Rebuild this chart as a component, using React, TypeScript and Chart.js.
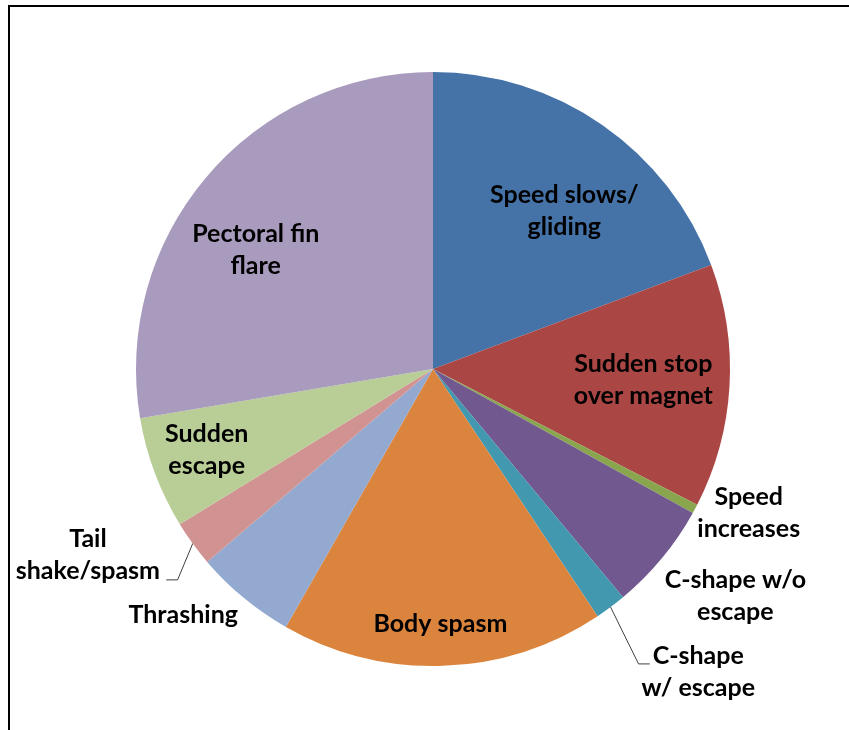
import React, { useEffect, useRef } from "react";
import { Chart, registerables } from "chart.js";

Chart.register(...registerables);

// Categories in clockwise order starting at 12 o'clock
const categories = [
  "Speed slows/gliding",
  "Sudden stop over magnet",
  "Speed increases",
  "C-shape w/o escape",
  "C-shape w/ escape",
  "Body spasm",
  "Thrashing",
  "Tail shake/spasm",
  "Sudden escape",
  "Pectoral fin flare",
];

const shares = [19.3, 13.25, 0.5, 5.9, 1.7, 17.6, 5.5, 2.5, 6.1, 27.65];

const sliceColors = [
  "#4572A7",
  "#AA4643",
  "#89A54E",
  "#71588F",
  "#4198AF",
  "#DB843D",
  "#93A9CF",
  "#D19392",
  "#B9CD96",
  "#A99BBD",
];

// Label text, split in lines
const labelLines = [
  ["Speed slows/", "gliding"],
  ["Sudden stop", "over magnet"],
  ["Speed", "increases"],
  ["C-shape w/o", "escape"],
  ["C-shape", "w/ escape"],
  ["Body spasm"],
  ["Thrashing"],
  ["Tail", "shake/spasm"],
  ["Sudden", "escape"],
  ["Pectoral fin", "flare"],
];

// Label placement, in units of the pie radius relative to its centre:
// x centre of each line, and baseline of the first line
const labelX = [
  [0.442, 0.442],
  [0.708, 0.708],
  [1.063, 1.063],
  [1.018, 1.018],
  [0.893, 0.893],
  [0.025],
  [-0.841],
  [-1.162, -1.162],
  [-0.762, -0.762],
  [-0.597, -0.597],
];
const labelY = [-0.559, 0.01, 0.458, 0.737, 0.993, 0.886, 0.855, 0.599, 0.246, -0.428];

// Leader lines (slice index -> elbow and end, radius units)
const leaderSlices = [4, 7];
const leaderElbow = [
  [0.692, 0.993],
  [-0.86, 0.71],
];
const leaderEnd = [
  [0.73, 0.993],
  [-0.898, 0.71],
];

const FONT = "bold 25px Lato, 'Open Sans', sans-serif";
const LINE_HEIGHT = 32;

const labelPlugin = {
  id: "sliceLabels",
  afterDraw(chart: any) {
    const ctx = chart.ctx as CanvasRenderingContext2D;
    const meta = chart.getDatasetMeta(0);
    const first = meta.data[0] as any;
    const cx = first.x;
    const cy = first.y;
    const r = first.outerRadius;

    ctx.save();
    // frame
    ctx.strokeStyle = "#000";
    ctx.lineWidth = 2;
    ctx.beginPath();
    ctx.moveTo(9, chart.height);
    ctx.lineTo(9, 6);
    ctx.lineTo(chart.width, 6);
    ctx.stroke();

    // leader lines
    ctx.strokeStyle = "#404040";
    ctx.lineWidth = 1;
    leaderSlices.forEach((si, k) => {
      const arc = meta.data[si] as any;
      const mid = (arc.startAngle + arc.endAngle) / 2;
      const sx = cx + Math.cos(mid) * r;
      const sy = cy + Math.sin(mid) * r;
      ctx.beginPath();
      ctx.moveTo(sx, sy);
      ctx.lineTo(cx + leaderElbow[k][0] * r, cy + leaderElbow[k][1] * r);
      ctx.lineTo(cx + leaderEnd[k][0] * r, cy + leaderEnd[k][1] * r);
      ctx.stroke();
    });

    // text
    ctx.font = FONT;
    ctx.fillStyle = "#000";
    ctx.textAlign = "center";
    ctx.textBaseline = "alphabetic";
    labelLines.forEach((lines, i) => {
      lines.forEach((t, j) => {
        const x = cx + labelX[i][j] * r;
        const y = cy + labelY[i] * r + j * LINE_HEIGHT;
        ctx.fillText(t, x, y);
      });
    });
    ctx.restore();
  },
};

export default function App() {
  const ref = useRef<HTMLCanvasElement | null>(null);

  useEffect(() => {
    document.body.style.margin = "0";
    const canvas = ref.current;
    if (!canvas) return;
    const chart = new Chart(canvas, {
      type: "pie",
      data: {
        labels: categories,
        datasets: [
          {
            data: shares,
            backgroundColor: sliceColors,
            borderWidth: 0,
          },
        ],
      },
      options: {
        responsive: false,
        animation: false,
        devicePixelRatio: 1,
        layout: { padding: { left: 136, right: 119, top: 72, bottom: 64 } },
        plugins: {
          legend: { display: false },
          tooltip: { enabled: false },
        },
      },
      plugins: [labelPlugin],
    });
    return () => chart.destroy();
  }, []);

  return (
    <div style={{ position: "fixed", left: 0, top: 0, width: 849, height: 730, background: "#fff" }}>
      <canvas ref={ref} width={849} height={730} />
    </div>
  );
}
